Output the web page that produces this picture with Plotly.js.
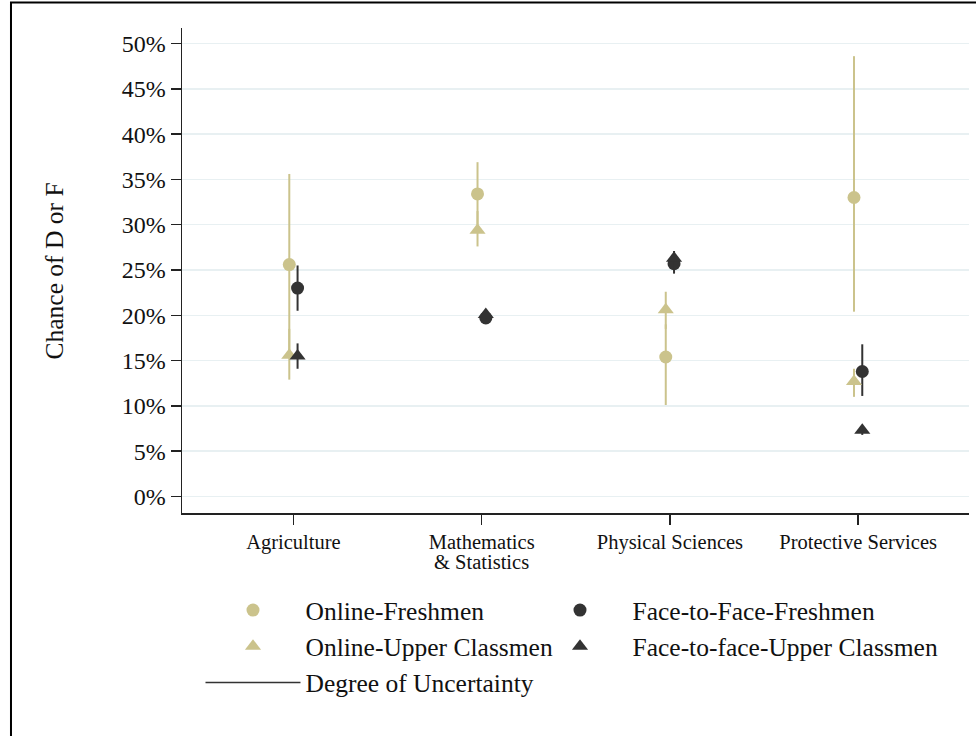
<!DOCTYPE html>
<html>
<head>
<meta charset="utf-8">
<script src="https://cdn.plot.ly/plotly-3.0.1.min.js"></script>
<style>html,body{margin:0;padding:0;background:#fff;}#chart{width:976px;height:736px;}</style>
</head>
<body>
<div id="chart"></div>
<script>
// Categories and tick labels
var categories = ['Agriculture', 'Mathematics<br>& Statistics', 'Physical Sciences', 'Protective Services'];
var yTickVals = [0, 5, 10, 15, 20, 25, 30, 35, 40, 45, 50];
var yTickText = yTickVals.map(function (v) { return v + '%'; });

// Chance of D or F (%)
var onlineFresh   = [25.6, 33.4, 15.4, 33.0];
var onlineFreshLo = [16.0, 30.0, 10.1, 20.4];
var onlineFreshHi = [35.6, 36.9, 19.0, 48.6];

var onlineUpper   = [15.6, 29.4, 20.6, 12.7];
var onlineUpperLo = [12.9, 27.6, 18.5, 11.0];
var onlineUpperHi = [18.5, 31.5, 22.6, 14.1];

var f2fFresh   = [23.0, 19.7, 25.7, 13.8];
var f2fFreshLo = [20.5, 19.2, 25.0, 11.1];
var f2fFreshHi = [25.5, 20.2, 26.6, 16.8];

var f2fUpper   = [15.5, 20.1, 26.3, 7.3];
var f2fUpperLo = [14.1, 19.6, 24.6, 6.8];
var f2fUpperHi = [16.9, 20.6, 27.1, 7.7];

var KHAKI = '#cbc38c';
var DARK = '#333333';
var FONT = 'Liberation Serif, Times New Roman, serif';

function xs(offset) { return categories.map(function (c, i) { return i + 1 + offset; }); }
function plus(v, hi) { return v.map(function (d, i) { return hi[i] - d; }); }
function minus(v, lo) { return v.map(function (d, i) { return d - lo[i]; }); }

function series(name, vals, lo, hi, offset, color, symbol, size, legendId) {
  return {
    type: 'scatter', mode: 'markers', name: name, legend: legendId,
    x: xs(offset), y: vals,
    marker: { color: color, symbol: symbol, size: size },
    error_y: { type: 'data', symmetric: false, array: plus(vals, hi), arrayminus: minus(vals, lo),
               color: color, thickness: 2, width: 0 },
    hoverinfo: 'y'
  };
}

var off = 0.022;
var traces = [
  series('Online-Freshmen', onlineFresh, onlineFreshLo, onlineFreshHi, -off, KHAKI, 'circle', 13, 'legend'),
  series('Face-to-Face-Freshmen', f2fFresh, f2fFreshLo, f2fFreshHi, off, DARK, 'circle', 13, 'legend2'),
  series('Online-Upper Classmen', onlineUpper, onlineUpperLo, onlineUpperHi, -off, KHAKI, 'triangle-up', 14, 'legend'),
  series('Face-to-face-Upper Classmen', f2fUpper, f2fUpperLo, f2fUpperHi, off, DARK, 'triangle-up', 14, 'legend2'),
  { type: 'scatter', mode: 'lines', name: 'Degree of Uncertainty', legend: 'legend', x: [null], y: [null],
    line: { color: DARK, width: 1.5 }, hoverinfo: 'skip' }
];

// first line of each category label is the tick text; extra lines become annotations (tighter line spacing)
var tickFirst = categories.map(function (c) { return c.split('<br>')[0]; });
var extraLines = [];
categories.forEach(function (c, i) {
  var parts = c.split('<br>');
  for (var k = 1; k < parts.length; k++) {
    extraLines.push({
      text: parts[k], xref: 'x', yref: 'paper', x: i + 1, y: -0.101 - 0.042 * (k - 1),
      xanchor: 'center', yanchor: 'middle', showarrow: false,
      font: { family: FONT, size: 20.5, color: '#111' }
    });
  }
});

var legendCommon = {
  orientation: 'v', xanchor: 'left', yanchor: 'top', y: -0.1526,
  font: { family: FONT, size: 25.5, color: '#111' }, itemwidth: 95,
  bgcolor: 'rgba(0,0,0,0)', traceorder: 'normal', itemclick: false, tracegroupgap: 0
};

var layout = {
  width: 976, height: 736,
  margin: { l: 182, r: 7, t: 28, b: 223 },
  paper_bgcolor: '#ffffff', plot_bgcolor: '#ffffff',
  font: { family: FONT, color: '#111111', size: 20 },
  showlegend: true,
  xaxis: {
    range: [0.408, 4.589], tickvals: [1, 2, 3, 4], ticktext: tickFirst,
    showgrid: false, zeroline: false, showline: true, linecolor: '#222', linewidth: 1.5,
    ticks: 'outside', ticklen: 10, tickwidth: 1.5, tickcolor: '#222',
    tickfont: { family: FONT, size: 20.5, color: '#111' }, automargin: false
  },
  yaxis: {
    range: [-1.82, 51.71], tickvals: yTickVals, ticktext: yTickText,
    showgrid: true, gridcolor: '#e8f0f2', gridwidth: 1.5, zeroline: false,
    showline: true, linecolor: '#222', linewidth: 1.5,
    ticks: 'outside', ticklen: 10, tickwidth: 1.5, tickcolor: '#222',
    tickfont: { family: FONT, size: 24, color: '#111' }, automargin: false
  },
  legend: Object.assign({}, legendCommon, { x: 0.0235 }),
  legend2: Object.assign({}, legendCommon, { x: 0.439 }),
  annotations: [{
    text: 'Chance of D or F', xref: 'paper', yref: 'paper', x: -0.1614, y: 0.5,
    xanchor: 'center', yanchor: 'middle', textangle: -90, showarrow: false,
    font: { family: FONT, size: 25.5, color: '#111' }
  }].concat(extraLines),
  shapes: [{
    type: 'rect', xref: 'paper', yref: 'paper', x0: -0.2173, x1: 1.06, y0: -0.7, y1: 1.0526,
    line: { color: '#000', width: 2 }, fillcolor: 'rgba(0,0,0,0)', layer: 'above'
  }]
};

Plotly.newPlot('chart', traces, layout, { displayModeBar: false, staticPlot: true });
</script>
</body>
</html>
